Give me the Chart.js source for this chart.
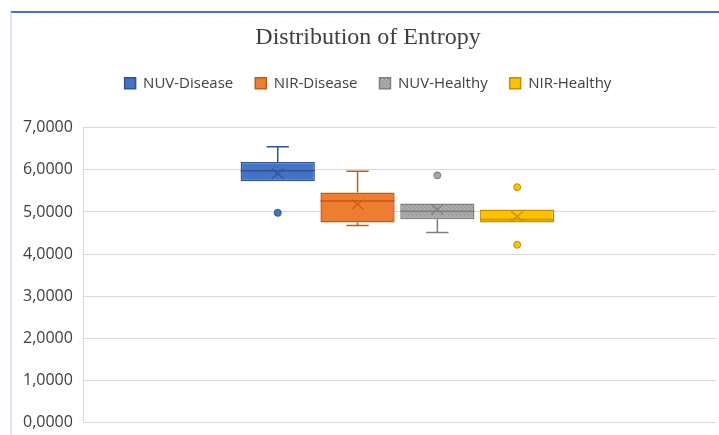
<!DOCTYPE html>
<html>
<head>
<meta charset="utf-8">
<script src="https://cdn.jsdelivr.net/npm/chart.js@4.4.1/dist/chart.umd.min.js"></script>
<style>
  html, body { margin: 0; padding: 0; background: #fff; }
  #frame {
    position: absolute; left: 10px; top: 11px; width: 709px; height: 424px;
    border-top: 2px solid #4472C4; border-left: 2px solid #DAE3F3;
    box-sizing: border-box; overflow: hidden;
  }
  #wrap { position: absolute; left: 0; top: 0; width: 707px; height: 430px; }
</style>
</head>
<body>
<div id="frame"><div id="wrap"><canvas id="c"></canvas></div></div>
<script>
// series names and colours
const seriesNames = ['NUV-Disease', 'NIR-Disease', 'NUV-Healthy', 'NIR-Healthy'];
const fillColors = ['#4472C4', '#ED7D31', '#A5A5A5', '#FFC000'];
const lineColors = ['#2F5597', '#C55A11', '#7F7F7F', '#BF9000'];

// box stats
const whiskerLow = [5.73, 4.68, 4.51, 4.75];
const q1 = [5.73, 4.75, 4.83, 4.75];
const median = [5.98, 5.26, 5.02, 4.82];
const q3 = [6.19, 5.46, 5.20, 5.06];
const whiskerHigh = [6.55, 5.97, 5.20, 5.06];
const mean = [5.91, 5.18, 5.06, 4.90];
const outliers = [[4.98], [], [5.87], [5.59, 4.22]];

// y axis
const yMin = 0, yMax = 7, yStep = 1;

function grayPattern() {
  const p = document.createElement('canvas');
  p.width = 4; p.height = 4;
  const g = p.getContext('2d');
  g.fillStyle = '#A5A5A5';
  g.fillRect(0, 0, 4, 4);
  g.fillStyle = '#B8B8B8';
  g.fillRect(0, 0, 1, 1);
  g.fillRect(2, 2, 1, 1);
  g.fillStyle = '#969696';
  g.fillRect(2, 0, 1, 1);
  g.fillRect(0, 2, 1, 1);
  return g.createPattern(p, 'repeat');
}

// extra room under the legend
const legendGap = {
  id: 'legendGap',
  beforeInit(chart) {
    const fit = chart.legend.fit;
    chart.legend.fit = function () {
      fit.call(this);
      this.height += 27;
    };
  },
  // the box group sits a little left of the plot centre
  afterLayout(chart) {
    const x = chart.scales.x;
    x.left -= 2.5;
    x.right -= 2.5;
    x.configure();
  }
};

const boxExtras = {
  id: 'boxExtras',
  afterDatasetsDraw(chart) {
    const ctx = chart.ctx;
    const y = chart.scales.y;
    chart.data.datasets.forEach((ds, i) => {
      const bar = chart.getDatasetMeta(i).data[0];
      if (!bar) return;
      const cx = bar.x, w = bar.width;
      const left = cx - w / 2, right = cx + w / 2;
      ctx.save();
      ctx.strokeStyle = lineColors[i];
      ctx.lineWidth = 1.5;
      // median
      ctx.beginPath();
      ctx.moveTo(left, y.getPixelForValue(median[i]));
      ctx.lineTo(right, y.getPixelForValue(median[i]));
      ctx.stroke();
      // whiskers
      const cap = w * 0.15;
      [[q3[i], whiskerHigh[i]], [q1[i], whiskerLow[i]]].forEach(([a, b]) => {
        if (Math.abs(a - b) < 0.005) return;
        const pa = y.getPixelForValue(a), pb = y.getPixelForValue(b);
        ctx.beginPath();
        ctx.moveTo(cx, pa); ctx.lineTo(cx, pb);
        ctx.moveTo(cx - cap, pb); ctx.lineTo(cx + cap, pb);
        ctx.stroke();
      });
      // mean marker
      const my = y.getPixelForValue(mean[i]);
      ctx.lineWidth = 1.2;
      ctx.beginPath();
      ctx.moveTo(cx - 6, my - 5); ctx.lineTo(cx + 6, my + 5);
      ctx.moveTo(cx + 6, my - 5); ctx.lineTo(cx - 6, my + 5);
      ctx.stroke();
      // outliers
      outliers[i].forEach(v => {
        ctx.beginPath();
        ctx.arc(cx, y.getPixelForValue(v), 3.5, 0, Math.PI * 2);
        ctx.fillStyle = fillColors[i];
        ctx.fill();
        ctx.lineWidth = 1;
        ctx.stroke();
      });
      ctx.restore();
    });
  }
};

const datasets = seriesNames.map((name, i) => ({
  label: name,
  data: [[q1[i], q3[i]]],
  backgroundColor: i === 2 ? grayPattern() : fillColors[i],
  borderColor: lineColors[i],
  borderWidth: 1.5,
  borderSkipped: false,
  categoryPercentage: 0.505,
  barPercentage: 0.93
}));

new Chart(document.getElementById('c'), {
  type: 'bar',
  data: { labels: [''], datasets },
  options: {
    responsive: true,
    maintainAspectRatio: false,
    animation: false,
    layout: { padding: { left: 8, right: 3, top: 4, bottom: 0 } },
    plugins: {
      title: {
        display: true,
        text: 'Distribution of Entropy',
        color: '#404040',
        font: { family: 'Liberation Serif', size: 24, weight: 'normal' },
        padding: { top: 6, bottom: 2 }
      },
      legend: {
        position: 'top',
        labels: {
          color: '#404040',
          font: { family: 'Open Sans', size: 15 },
          boxWidth: 11, boxHeight: 11,
          padding: 22
        }
      },
      tooltip: { enabled: false }
    },
    scales: {
      x: {
        display: false
      },
      y: {
        min: yMin, max: yMax,
        afterFit: scale => { scale.width -= 8; },
        ticks: {
          stepSize: yStep,
          color: '#404040',
          padding: 11,
          font: { family: 'Open Sans', size: 16 },
          callback: v => v.toFixed(4).replace('.', ',')
        },
        grid: { color: '#D9D9D9', drawTicks: false },
        border: { color: '#D9D9D9' }
      }
    }
  },
  plugins: [legendGap, boxExtras]
});
</script>
</body>
</html>
